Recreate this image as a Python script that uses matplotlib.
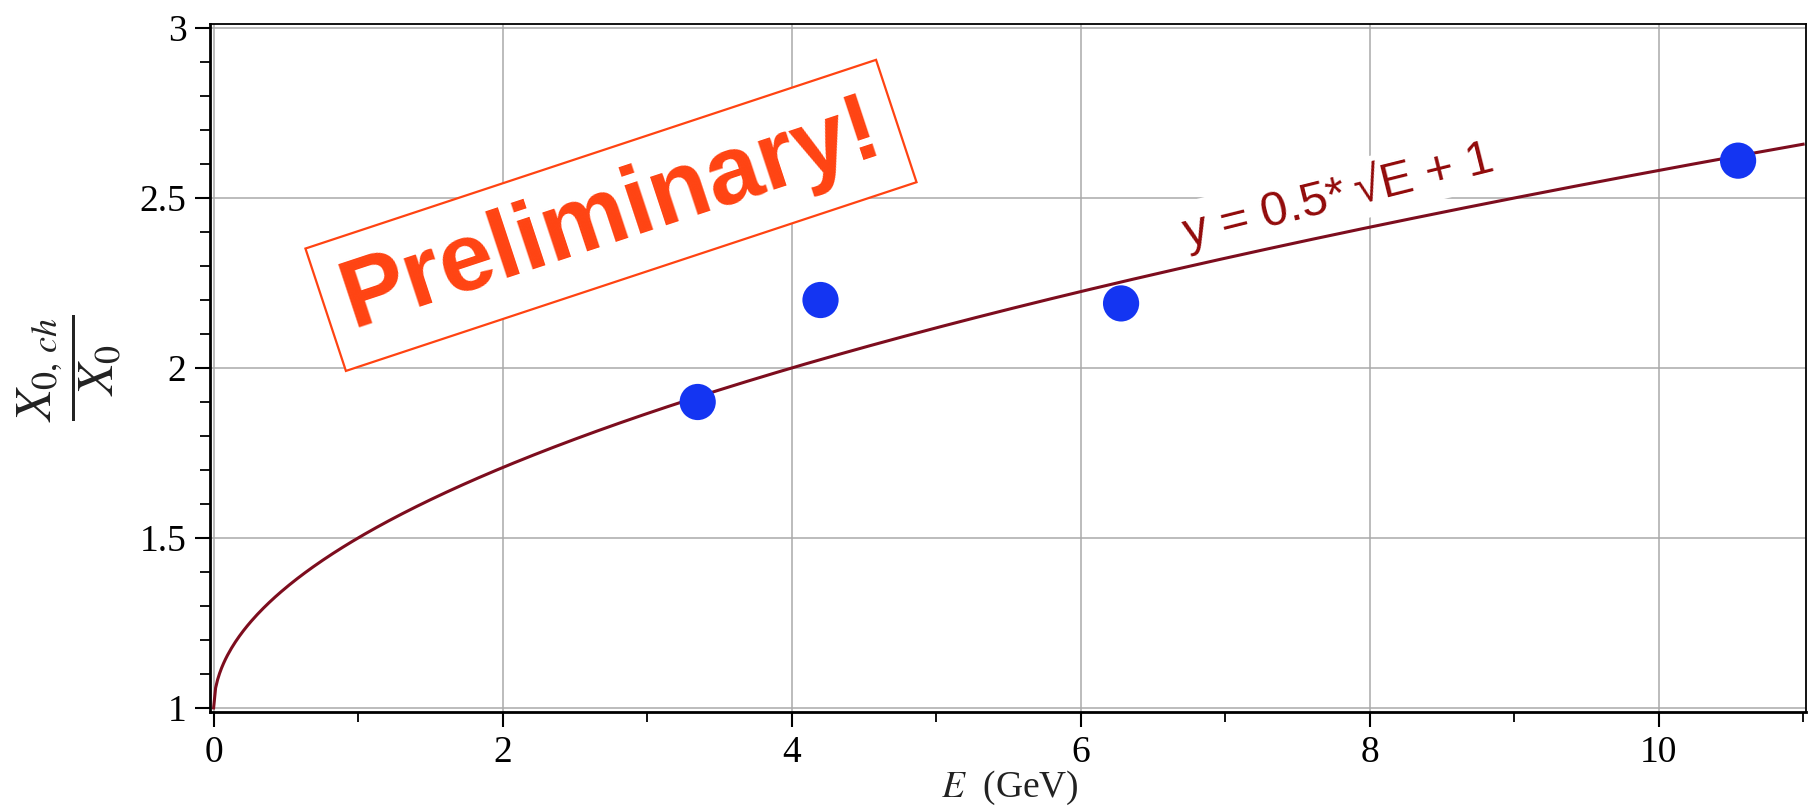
import numpy as np
import matplotlib
matplotlib.use("Agg")
import matplotlib.pyplot as plt
from matplotlib.ticker import MultipleLocator

energy = [3.35, 4.20, 6.28, 10.55]
ratio = [1.90, 2.20, 2.19, 2.61]

# fitted curve y = a*sqrt(E) + b
fit_a = 0.5
fit_b = 1.0
fit_label = "y = 0.5*\u2009\u221aE + 1"
stamp = "Preliminary!"

x_ticks = [0, 2, 4, 6, 8, 10]
y_ticks = [1, 1.5, 2, 2.5, 3]
y_ticklabels = ["1", "1.5", "2", "2.5", "3"]

plt.rcParams["font.family"] = ["Liberation Serif", "DejaVu Serif"]
plt.rcParams["mathtext.fontset"] = "stix"

fig = plt.figure(figsize=(18.14, 8.07), dpi=100)
ax = fig.add_axes([210 / 1814, 1 - 712 / 807, 1596 / 1814, 688 / 807])

# fit curve
e_fit = np.linspace(0, 11, 800)
ax.plot(e_fit, fit_a * np.sqrt(e_fit) + fit_b, color="#7d0d1e", lw=2.2, zorder=3)

# data points
ax.scatter(energy, ratio, s=680, color="#1435f2", edgecolors="none", zorder=4)

ax.set_xlim(-0.025, 11.02)
ax.set_ylim(0.988, 3.012)
ax.set_xticks(x_ticks)
ax.set_yticks(y_ticks)
ax.set_yticklabels(y_ticklabels)
ax.xaxis.set_minor_locator(MultipleLocator(1))
ax.yaxis.set_minor_locator(MultipleLocator(0.1))
ax.tick_params(which="major", direction="out", length=11, width=1.5, labelsize=27, pad=6)
ax.tick_params(which="minor", direction="out", length=7, width=1.3)
ax.grid(True, which="major", color="#a9a9a9", lw=1.1, zorder=0)
ax.set_axisbelow(True)
for side in ["left", "bottom"]:
    ax.spines[side].set_linewidth(2.0)
for side in ["top", "right"]:
    ax.spines[side].set_linewidth(1.3)

# axis labels
ax.text(-0.088, 0.5, r"$\dfrac{X_{0,\,ch}}{X_{0}}$", transform=ax.transAxes,
        rotation=90, ha="center", va="center", fontsize=37, color="#222222")
fig.text(1010 / 1814, 1 - 788 / 807, r"$E$  (GeV)", ha="center", va="center",
         fontsize=27, color="#222222")

# fit annotation
ax.text(7.78, 2.51, fit_label, rotation=14, rotation_mode="anchor",
        ha="center", va="center", fontsize=35, color="#920a0a",
        family=["Liberation Sans", "DejaVu Sans"],
        bbox=dict(facecolor="white", edgecolor="none", pad=4), zorder=5)

# preliminary stamp
ax.text(2.75, 2.449, stamp, rotation=18.3, rotation_mode="anchor",
        ha="center", va="center", fontsize=70, fontweight="bold",
        color="#ff4312", family=["Liberation Sans", "DejaVu Sans"],
        bbox=dict(boxstyle="square,pad=0.2", facecolor="white",
                  edgecolor="#ff4312", lw=1.6), zorder=6)

fig.savefig("out.png", dpi=100, facecolor="white")
